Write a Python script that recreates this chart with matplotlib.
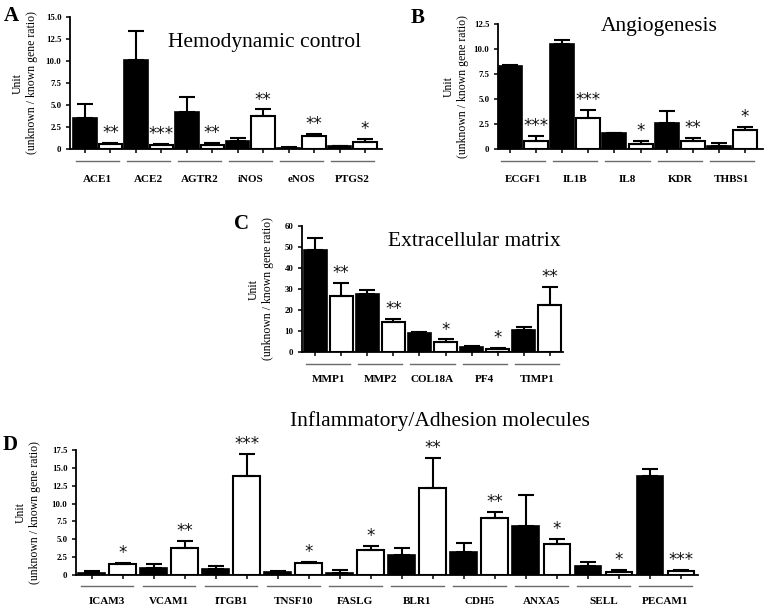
import matplotlib
matplotlib.use("Agg")
import matplotlib.pyplot as plt
import matplotlib.transforms as mtransforms
import numpy as np

plt.rcParams['font.family'] = ['Liberation Serif', 'DejaVu Serif']

# ---------------- data ----------------
a_genes = ["ACE1", "ACE2", "AGTR2", "iNOS", "eNOS", "PTGS2"]
a_black = [3.5, 10.1, 4.2, 0.9, 0.15, 0.3]
a_black_err = [1.6, 3.3, 1.7, 0.4, 0.05, 0.05]
a_white = [0.6, 0.4, 0.5, 3.8, 1.5, 0.8]
a_white_err = [0.1, 0.2, 0.2, 0.7, 0.2, 0.35]
a_sig = ["**", "***", "**", "**", "**", "*"]
a_ticks = [0, 2.5, 5.0, 7.5, 10.0, 12.5, 15.0]
a_ticklabels = ["0", "2.5", "5.0", "7.5", "10.0", "12.5", "15.0"]

b_genes = ["ECGF1", "IL1B", "IL8", "KDR", "THBS1"]
b_black = [8.3, 10.5, 1.6, 2.6, 0.3]
b_black_err = [0.05, 0.4, 0.05, 1.2, 0.3]
b_white = [0.8, 3.1, 0.5, 0.8, 1.9]
b_white_err = [0.5, 0.8, 0.35, 0.3, 0.3]
b_sig = ["***", "***", "*", "**", "*"]
b_ticks = [0, 2.5, 5.0, 7.5, 10.0, 12.5]
b_ticklabels = ["0", "2.5", "5.0", "7.5", "10.0", "12.5"]

c_genes = ["MMP1", "MMP2", "COL18A", "PF4", "TIMP1"]
c_black = [48.5, 27.5, 9.0, 2.5, 10.5]
c_black_err = [6.0, 2.0, 0.4, 0.4, 1.3]
c_white = [26.5, 14.5, 5.0, 1.2, 22.5]
c_white_err = [6.5, 1.2, 1.0, 0.8, 8.5]
c_sig = ["**", "**", "*", "*", "**"]
c_ticks = [0, 10, 20, 30, 40, 50, 60]
c_ticklabels = ["0", "10", "20", "30", "40", "50", "60"]

d_genes = ["ICAM3", "VCAM1", "ITGB1", "TNSF10", "FASLG", "BLR1", "CDH5",
           "ANXA5", "SELL", "PECAM1"]
d_black = [0.3, 1.0, 0.8, 0.4, 0.3, 2.8, 3.2, 6.9, 1.3, 13.8]
d_black_err = [0.2, 0.6, 0.5, 0.2, 0.4, 1.0, 1.3, 4.3, 0.5, 1.1]
d_white = [1.6, 3.8, 13.8, 1.7, 3.5, 12.2, 8.0, 4.3, 0.4, 0.5]
d_white_err = [0.15, 1.0, 3.2, 0.15, 0.6, 4.2, 0.8, 0.8, 0.35, 0.2]
d_sig = ["*", "**", "***", "*", "*", "**", "**", "*", "*", "***"]
d_ticks = [0, 2.5, 5.0, 7.5, 10.0, 12.5, 15.0, 17.5]
d_ticklabels = ["0", "2.5", "5.0", "7.5", "10.0", "12.5", "15.0", "17.5"]

ylabel_top = "Unit"
ylabel_bottom = "(unknown / known gene ratio)"

W, H = 764, 610
fig = plt.figure(figsize=(W / 100, H / 100), dpi=100)


def px_axes(left, right, top, bottom):
    return fig.add_axes([left / W, 1 - bottom / H, (right - left) / W, (bottom - top) / H])


def panel(box, genes, black, black_err, white, white_err, sig, ticks, ticklabels,
          xlim_pad, width, capsize, line_off, label_off, ylab_x, letter, letter_xy,
          title, title_xy, title_size):
    ax = px_axes(*box)
    n = len(genes)
    xb = np.arange(n) * 2.0
    xw = xb + 1.0
    ax.bar(xb, black, width=width, color='black', edgecolor='black', linewidth=1.2, zorder=2)
    ax.bar(xw, white, width=width, color='white', edgecolor='black', linewidth=1.5, zorder=2)
    zeros = np.zeros(n)
    ax.errorbar(xb, black, yerr=[zeros, black_err], fmt='none', ecolor='black',
                elinewidth=1.5, capsize=capsize, capthick=1.5, zorder=3)
    ax.errorbar(xw, white, yerr=[zeros, white_err], fmt='none', ecolor='black',
                elinewidth=1.5, capsize=capsize, capthick=1.5, zorder=3)
    for i in range(n):
        ax.annotate(sig[i], xy=(xw[i], white[i] + white_err[i]), xytext=(0, 3.5),
                    textcoords='offset points', ha='center', va='baseline',
                    fontsize=12, family=['DejaVu Sans'], color='#111111')
    ax.set_xlim(-xlim_pad[0], 2 * n - 1 + xlim_pad[1])
    ax.set_ylim(0, ticks[-1])
    ax.set_yticks(ticks)
    ax.set_yticklabels(ticklabels, fontsize=6.3, fontweight='bold')
    ax.set_xticks(np.concatenate([xb, xw]))
    ax.set_xticklabels([])
    ax.tick_params(axis='both', length=3.2, width=1.1, direction='out', pad=3)
    for s in ['top', 'right']:
        ax.spines[s].set_visible(False)
    for s in ['left', 'bottom']:
        ax.spines[s].set_linewidth(1.3)
    base = mtransforms.blended_transform_factory(ax.transData, ax.transAxes)
    ltrans = mtransforms.offset_copy(base, fig=fig, x=0, y=-line_off * 0.72, units='points')
    ttrans = mtransforms.offset_copy(base, fig=fig, x=0, y=-label_off * 0.72, units='points')
    for i in range(n):
        ax.plot([xb[i] - 0.35, xw[i] + 0.35], [0, 0], color='#6a6a6a', lw=1.0,
                transform=ltrans, clip_on=False)
        ax.text((xb[i] + xw[i]) / 2, 0, genes[i], transform=ttrans, ha='center',
                va='center', fontsize=8, fontweight='bold')
    # y label (two separate lines)
    cy = 1 - ((box[2] + box[3]) / 2) / H
    fig.text((ylab_x - 7) / W, cy, ylabel_top, rotation=90,
             ha='center', va='center', fontsize=8.5)
    fig.text((ylab_x + 7) / W, cy, ylabel_bottom, rotation=90,
             ha='center', va='center', fontsize=8.5)
    fig.text(letter_xy[0] / W, 1 - letter_xy[1] / H, letter, ha='center', va='center',
             fontsize=15, fontweight='bold')
    fig.text(title_xy[0] / W, 1 - title_xy[1] / H, title, ha='center', va='center',
             fontsize=title_size)
    return ax


panel((70, 382, 17, 149), a_genes, a_black, a_black_err, a_white, a_white_err, a_sig,
      a_ticks, a_ticklabels, (0.59, 0.67), 0.92, 6, 12, 31, 25, "A", (11, 16),
      "Hemodynamic control", (265, 42), 15.5)
panel((498, 763, 24, 149), b_genes, b_black, b_black_err, b_white, b_white_err, b_sig,
      b_ticks, b_ticklabels, (0.46, 0.69), 0.92, 6, 12, 30, 456, "B", (418, 18),
      "Angiogenesis", (659, 27), 15.5)
panel((302, 563, 226, 352), c_genes, c_black, c_black_err, c_white, c_white_err, c_sig,
      c_ticks, c_ticklabels, (0.5, 0.5), 0.88, 6, 12, 28, 261, "C", (242, 224),
      "Extracellular matrix", (474, 242), 15.5)
panel((76, 698, 450, 575), d_genes, d_black, d_black_err, d_white, d_white_err, d_sig,
      d_ticks, d_ticklabels, (0.5, 0.55), 0.86, 5.5, 11, 27, 28, "D", (10, 445),
      "Inflammatory/Adhesion molecules", (440, 421), 15.5)

fig.savefig("out.png", dpi=100)
